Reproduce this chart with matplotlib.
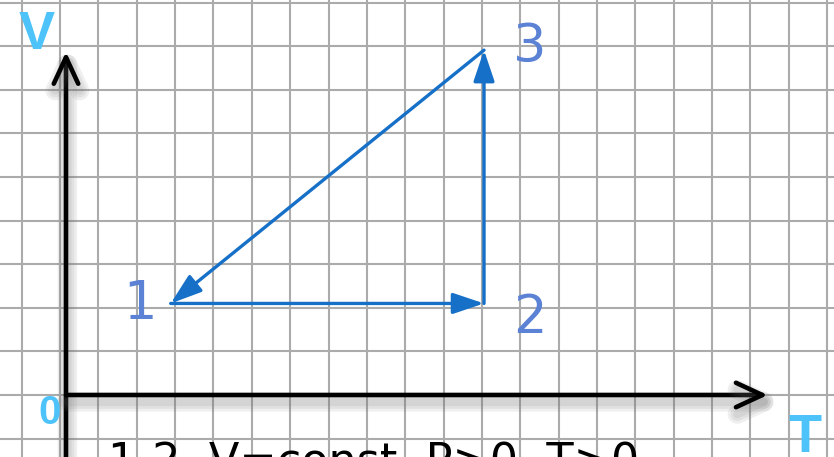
import numpy as np
import matplotlib
matplotlib.use("Agg")
import matplotlib.pyplot as plt
import matplotlib.patheffects as pe
from matplotlib.patches import FancyArrowPatch

# cycle points (T, V) in grid cells, origin at the axes crossing
cycle_T = [2.73, 10.90, 10.90]
cycle_V = [2.10, 2.10, 7.91]
cycle_labels = ["1", "2", "3"]
caption = "1-2  V=const  P>0  T>0"

BLUE = "#1670c8"
LABEL_BLUE = "#5b82d4"
AXIS_BLUE = "#4dc3fa"

fig = plt.figure(figsize=(8.34, 4.57), dpi=100)
ax = fig.add_axes([0, 0, 1, 1])
ax.set_xlim(-1.721, 20.026)
ax.set_ylim(-1.422, 9.060)
ax.axis("off")

# squared paper
for gx in np.arange(-1.155, 20.1, 1.0):
    ax.axvline(gx, color="#ababab", lw=1.5, zorder=1)
for gy in np.arange(-1, 10):
    ax.axhline(gy, color="#ababab", lw=1.5, zorder=1)

# axes with open arrow heads and a soft blurred shadow
shadow = [pe.SimpleLineShadow(offset=(1, -5), shadow_color="#6a6a6a", alpha=0.10, linewidth=w)
          for w in (14, 10, 6)] + [pe.Normal()]
for start, end in [((0, -1.6), (0, 7.87)), ((0, 0), (18.3, 0))]:
    arr = FancyArrowPatch(start, end, arrowstyle="->,head_length=0.95,head_width=0.44",
                          mutation_scale=20, lw=3.3, color="black", shrinkA=0, shrinkB=0,
                          capstyle="round", joinstyle="round", zorder=3)
    arr.set_path_effects(shadow)
    ax.add_patch(arr)

# the cycle 1 -> 2 -> 3 -> 1
n = len(cycle_T)
for i in range(n):
    j = (i + 1) % n
    ax.add_patch(FancyArrowPatch((cycle_T[i], cycle_V[i]), (cycle_T[j], cycle_V[j]),
                                 arrowstyle="-|>,head_length=0.95,head_width=0.32",
                                 mutation_scale=20, lw=2.4, color=BLUE,
                                 shrinkA=0, shrinkB=0, zorder=4))

# state labels
label_dx = [-0.80, 1.20, 1.20]
label_dy = [-0.36, -0.68, -0.27]
for t, v, s, dx, dy in zip(cycle_T, cycle_V, cycle_labels, label_dx, label_dy):
    ax.text(t + dx, v + dy, s, fontsize=38, color=LABEL_BLUE, ha="center", va="baseline",
            family="DejaVu Sans", zorder=5)

# axis names
ax.text(-0.77, 7.94, "V", fontsize=39, fontweight="bold", color=AXIS_BLUE,
        ha="center", va="baseline", family="Liberation Sans", zorder=5)
ax.text(19.27, -1.31, "T", fontsize=39, fontweight="bold", color=AXIS_BLUE,
        ha="center", va="baseline", family="Liberation Sans", zorder=5)
ax.text(-0.42, -0.665, "0", fontsize=29, fontweight="bold", color=AXIS_BLUE,
        ha="center", va="baseline", family="Liberation Sans", zorder=5)

ax.text(1.10, -1.84, caption, fontsize=32, color="black", ha="left", va="baseline",
        family="DejaVu Sans", zorder=5)

fig.savefig("out.png", dpi=100)
